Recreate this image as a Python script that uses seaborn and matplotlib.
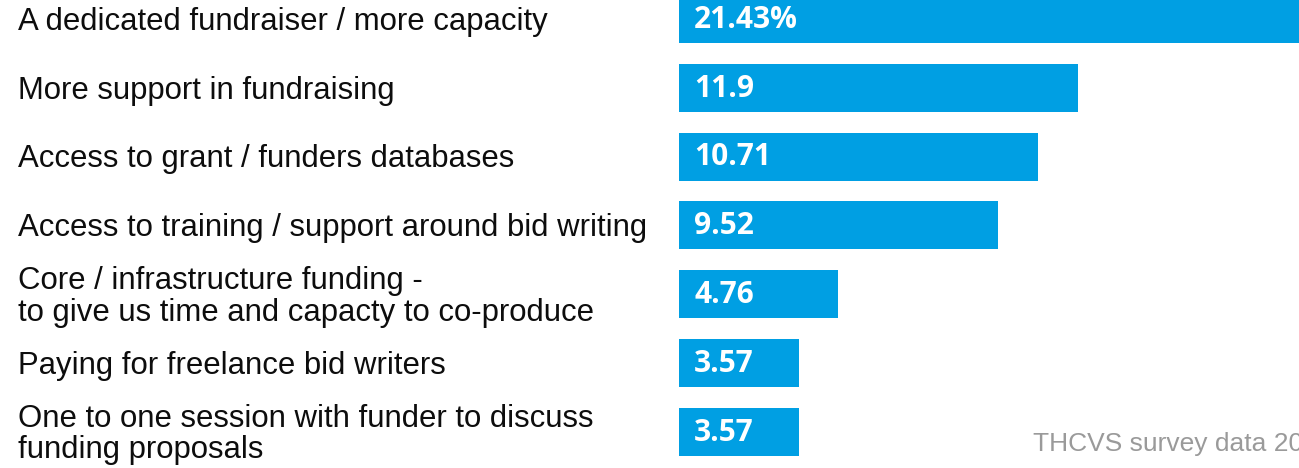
import matplotlib
matplotlib.use("Agg")
import matplotlib.pyplot as plt
import matplotlib.transforms as mtransforms
import seaborn as sns
import pandas as pd

categories = [
    "A dedicated fundraiser / more capacity",
    "More support in fundraising",
    "Access to grant / funders databases",
    "Access to training / support around bid writing",
    "Core / infrastructure funding -\nto give us time and capacty to co-produce",
    "Paying for freelance bid writers",
    "One to one session with funder to discuss\nfunding proposals",
]
values = [21.43, 11.9, 10.71, 9.52, 4.76, 3.57, 3.57]
value_labels = ["21.43%", "11.9", "10.71", "9.52", "4.76", "3.57", "3.57"]
source = "THCVS survey data 2022"

sns.set_theme(style="white")
plt.rcParams["font.family"] = ["Liberation Sans", "DejaVu Sans"]

W, H = 1299, 468
fig = plt.figure(figsize=(W / 100, H / 100), dpi=100)
ax = fig.add_axes([679 / W, 0, 1 - 679 / W, 1])

df = pd.DataFrame({"cat": categories, "val": values})
sns.barplot(data=df, x="val", y="cat", color="#009fe3", saturation=1,
            width=0.70, orient="h", ax=ax, edgecolor="none")

span = 68.8
ax.set_xlim(0, (W - 679) / 33.5)
ax.set_ylim((H - 19) / span, -19 / span)
ax.axis("off")

trans = mtransforms.blended_transform_factory(fig.transFigure, ax.transData)
for i, (c, lab) in enumerate(zip(categories, value_labels)):
    ax.annotate(c, xy=(18 / W, i), xycoords=trans, xytext=(0, -2),
                textcoords="offset points", ha="left", va="center",
                fontsize=22.4, color="#0d0d0d", linespacing=1.05)
    ax.annotate(lab, xy=(0, i), xytext=(11, 2), textcoords="offset points",
                ha="left", va="center_baseline", color="white", fontsize=21.5,
                fontweight="bold", family=["Open Sans", "DejaVu Sans"])

fig.text(1033 / W, 1 - 444 / H, source, ha="left", va="center",
         fontsize=19, color="#9a9a9a")

fig.savefig("out.png", dpi=100)
